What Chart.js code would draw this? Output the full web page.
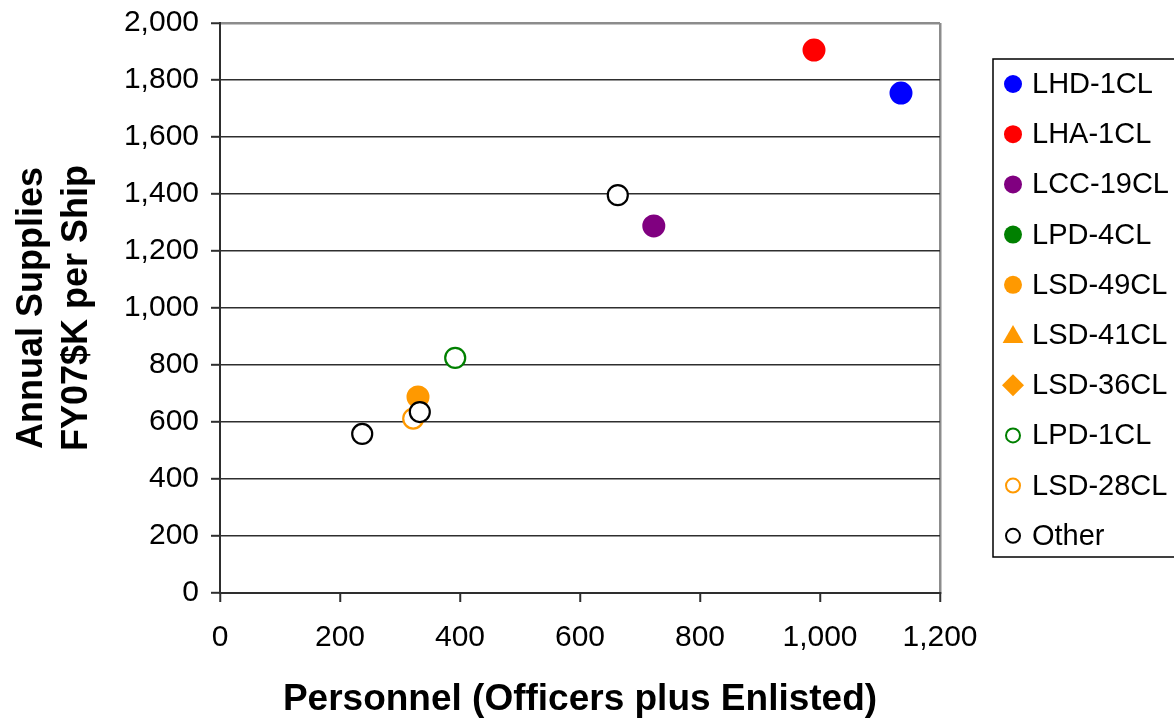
<!DOCTYPE html>
<html>
<head>
<meta charset="utf-8">
<script src="https://cdn.jsdelivr.net/npm/chart.js@4/dist/chart.umd.min.js"></script>
<style>
  html, body { margin: 0; padding: 0; background: #fff; }
  #wrap { width: 1174px; height: 722px; position: relative; }
</style>
</head>
<body>
<div id="wrap"><canvas id="chart"></canvas></div>
<script>
// --- Data (personnel vs annual supplies, FY07 $K) ---
const seriesNames = ['LHD-1CL', 'LHA-1CL', 'LCC-19CL', 'LPD-4CL', 'LSD-49CL',
  'LSD-41CL', 'LSD-36CL', 'LPD-1CL', 'LSD-28CL', 'Other'];

const lhd1Personnel = [1135];
const lhd1Supplies = [1754];
const lha1Personnel = [990];
const lha1Supplies = [1905];
const lcc19Personnel = [723];
const lcc19Supplies = [1288];
const lpd4Personnel = [];
const lpd4Supplies = [];
const lsd49Personnel = [330];
const lsd49Supplies = [688];
const lsd41Personnel = [];
const lsd41Supplies = [];
const lsd36Personnel = [];
const lsd36Supplies = [];
const lpd1Personnel = [392];
const lpd1Supplies = [825];
const lsd28Personnel = [322];
const lsd28Supplies = [612];
const otherPersonnel = [663, 333, 237];
const otherSupplies = [1396, 635, 558];

const xTickMax = 1200;
const yTickMax = 2000;
const tickStep = 200;

// --- Colours ---
const colors = {
  blue: '#0000ff',
  red: '#ff0000',
  purple: '#800080',
  green: '#008000',
  orange: '#ff9900',
  black: '#000000',
  frame: '#8c8c8c',
  grid: '#2e2e2e'
};

const FONT = "'Liberation Sans', Arial, Helvetica, sans-serif";

function toPoints(xs, ys) {
  return xs.map((x, i) => ({ x: x, y: ys[i] }));
}

// filled / open marker helpers
function filled(label, xs, ys, color, style = 'circle') {
  return {
    label, data: toPoints(xs, ys), pointStyle: style,
    backgroundColor: color, borderColor: color,
    pointRadius: 10.5, pointBorderWidth: 2, hollow: false
  };
}
function hollow(label, xs, ys, color) {
  return {
    label, data: toPoints(xs, ys), pointStyle: 'circle',
    backgroundColor: '#ffffff', borderColor: color,
    pointRadius: 10, pointBorderWidth: 2.2, hollow: true
  };
}

const datasets = [
  filled(seriesNames[0], lhd1Personnel, lhd1Supplies, colors.blue),
  filled(seriesNames[1], lha1Personnel, lha1Supplies, colors.red),
  filled(seriesNames[2], lcc19Personnel, lcc19Supplies, colors.purple),
  filled(seriesNames[3], lpd4Personnel, lpd4Supplies, colors.green),
  filled(seriesNames[4], lsd49Personnel, lsd49Supplies, colors.orange),
  filled(seriesNames[5], lsd41Personnel, lsd41Supplies, colors.orange, 'triangle'),
  filled(seriesNames[6], lsd36Personnel, lsd36Supplies, colors.orange, 'rectRot'),
  hollow(seriesNames[7], lpd1Personnel, lpd1Supplies, colors.green),
  hollow(seriesNames[8], lsd28Personnel, lsd28Supplies, colors.orange),
  hollow(seriesNames[9], otherPersonnel, otherSupplies, colors.black)
];
// "Other" circles sit on top of the orange ones
datasets[9].order = -1;

// --- Boxed legend on the right, drawn from the dataset styles ---
const boxedLegend = {
  id: 'boxedLegend',
  afterDraw(chart) {
    const ctx = chart.ctx;
    const left = 993, top = 59, bottom = 557;
    const firstY = 84, rowGap = 50.2;
    ctx.save();
    ctx.strokeStyle = '#000';
    ctx.lineWidth = 1.5;
    ctx.strokeRect(left, top, 1174 - left + 10, bottom - top);
    ctx.font = '29px ' + FONT;
    ctx.textBaseline = 'middle';
    ctx.textAlign = 'left';
    chart.data.datasets.forEach((ds, i) => {
      const y = firstY + i * rowGap;
      const x = 1013;
      ctx.fillStyle = ds.backgroundColor;
      ctx.strokeStyle = ds.borderColor;
      ctx.lineWidth = 2;
      let r = ds.hollow ? 7 : 9;
      if (ds.pointStyle === 'triangle') r = 12;
      if (ds.pointStyle === 'rectRot') r = 11;
      Chart.helpers.drawPoint(ctx, {
        pointStyle: ds.pointStyle, radius: r, rotation: 0,
        borderWidth: ds.hollow ? 2 : 0
      }, x, y + (ds.pointStyle === 'triangle' ? 2 : 0));
      ctx.fillStyle = '#000';
      ctx.fillText(ds.label, 1032, y + 1);
    });
    ctx.restore();
  }
};

Chart.defaults.font.family = FONT;
Chart.defaults.color = '#000';

new Chart(document.getElementById('chart'), {
  type: 'scatter',
  data: { datasets },
  plugins: [boxedLegend],
  options: {
    responsive: true,
    maintainAspectRatio: false,
    animation: false,
    layout: { padding: { left: 0, top: 23, right: 234, bottom: 0 } },
    plugins: {
      legend: { display: false },
      tooltip: { enabled: false }
    },
    scales: {
      x: {
        type: 'linear',
        min: 0,
        max: xTickMax,
        ticks: { stepSize: tickStep, padding: 18, font: { size: 30 }, color: '#000' },
        grid: {
          drawOnChartArea: true,
          color: c => (c.tick && c.tick.value === xTickMax ? colors.frame : 'rgba(0,0,0,0)'),
          lineWidth: 2.5,
          tickColor: colors.grid,
          tickWidth: 2,
          tickLength: 9
        },
        border: { color: colors.grid, width: 2 },
        title: {
          display: true,
          text: 'Personnel (Officers plus Enlisted)',
          font: { size: 37, weight: 'bold' },
          color: '#000',
          padding: { top: 0, bottom: 0 }
        },
        afterFit: s => { s.height = 129; s.paddingLeft = 0; s.paddingRight = 0; }
      },
      y: {
        type: 'linear',
        min: 0,
        max: yTickMax,
        ticks: { stepSize: tickStep, padding: 12, font: { size: 30 }, color: '#000' },
        grid: {
          color: c => (c.tick && c.tick.value === yTickMax ? colors.frame : colors.grid),
          lineWidth: c => (c.tick && c.tick.value === yTickMax ? 2.5 : 1.6),
          tickColor: colors.grid,
          tickWidth: 2,
          tickLength: 9
        },
        border: { color: colors.grid, width: 2 },
        title: {
          display: true,
          text: ['Annual Supplies', 'FY07$K per Ship'],
          font: { size: 36, weight: 'bold', lineHeight: 1.25 },
          color: '#000',
          padding: { top: 10, bottom: 0 }
        },
        afterFit: s => { s.width = 220; s.paddingTop = 0; s.paddingBottom = 0; }
      }
    }
  }
});
</script>
</body>
</html>
